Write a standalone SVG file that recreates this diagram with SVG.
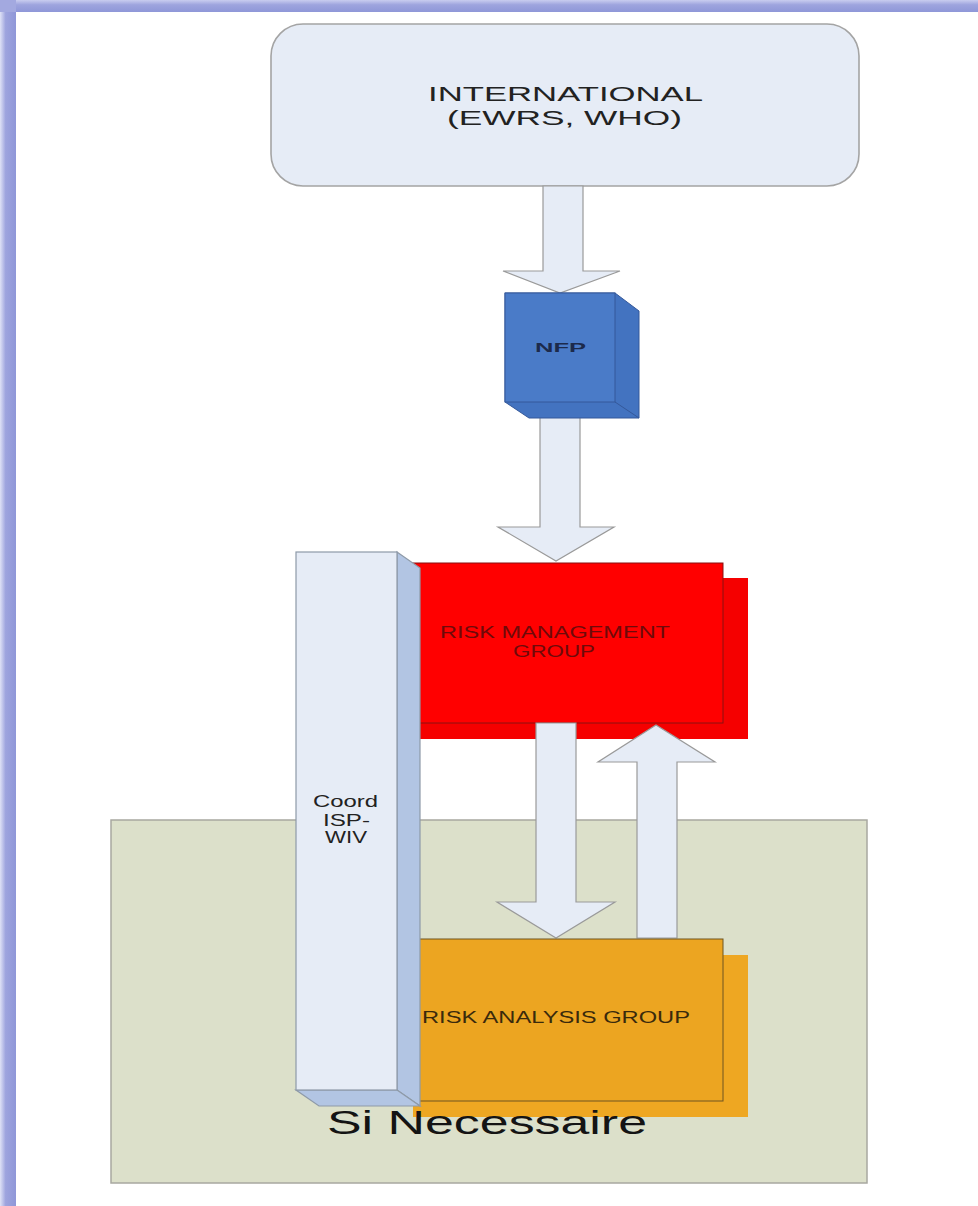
<svg xmlns="http://www.w3.org/2000/svg" width="978" height="1206" viewBox="0 0 978 1206">
<defs>
<linearGradient id="gl" x1="0" y1="0" x2="1" y2="0"><stop offset="0" stop-color="#dfe2f6"/><stop offset="0.35" stop-color="#9ea4de"/><stop offset="1" stop-color="#8f97d8"/></linearGradient>
<linearGradient id="gt" x1="0" y1="0" x2="0" y2="1"><stop offset="0" stop-color="#c9cdef"/><stop offset="0.4" stop-color="#9ea4de"/><stop offset="1" stop-color="#8f97d8"/></linearGradient>
<style>
.arrow{fill:#e6ecf6;stroke:#9a9a9a;stroke-width:1.2}
.lbl{font-family:"Liberation Sans",Arial,sans-serif;text-anchor:start}
.face{fill:#e6ecf6;stroke:#8e9aa8;stroke-width:1.2}
.side{fill:#b2c5e3;stroke:#8e9aa8;stroke-width:1.2}
</style>
</defs>
<rect width="978" height="1206" fill="#ffffff"/>
<g id="frame">
<rect x="0" y="0" width="16" height="1206" fill="url(#gl)"/>
<rect x="0" y="0" width="978" height="12" fill="url(#gt)"/>
<rect x="0" y="0" width="16" height="12" fill="#a3a9e0"/>
</g>
<g id="si-necessaire-area">
<rect x="111" y="820" width="756" height="363" fill="#dce0ca" stroke="#a8a8a0" stroke-width="1.5"/>
</g>
<g id="international">
<rect x="271" y="24" width="588" height="162" rx="32" ry="32" fill="#e6ecf6" stroke="#a4a4a4" stroke-width="1.6"/>
<text class="lbl" x="428" y="101" font-size="21" fill="#222" textLength="275" lengthAdjust="spacingAndGlyphs">INTERNATIONAL</text>
<text class="lbl" x="447" y="125" font-size="21" fill="#222" textLength="235" lengthAdjust="spacingAndGlyphs">(EWRS, WHO)</text>
</g>
<g id="connectors">
<polygon class="arrow" points="543,186 583,186 583,271 620,271 560,293 503,271 543,271"/>
<polygon class="arrow" points="540,400 580,400 580,527 614,527 556,561 498,527 540,527"/>
</g>
<g id="nfp">
<polygon points="505,293 615,293 639,311 639,418 529,418 505,402" fill="#4373c0" stroke="#34589a" stroke-width="1"/>
<rect x="505" y="293" width="110" height="109" fill="#4a7bc8" stroke="#34589a" stroke-width="1"/>
<polyline points="615,402 639,418" fill="none" stroke="#34589a" stroke-width="1"/>
<text class="lbl" x="535" y="352" font-size="13" font-weight="bold" fill="#1c2a4c" textLength="51" lengthAdjust="spacingAndGlyphs">NFP</text>
</g>
<g id="risk-management">
<rect x="412" y="578" width="336" height="161" fill="#f50000"/>
<rect x="412" y="563" width="311" height="160" fill="#ff0000" stroke="#8a1010" stroke-width="1"/>
<text class="lbl" x="440" y="638" font-size="16" fill="#6e0a0a" textLength="230" lengthAdjust="spacingAndGlyphs">RISK MANAGEMENT</text>
<text class="lbl" x="513" y="657" font-size="16" fill="#6e0a0a" textLength="82" lengthAdjust="spacingAndGlyphs">GROUP</text>
</g>
<g id="connectors-2">
<polygon class="arrow" points="536,723 576,723 576,902 615,902 556,938 497,902 536,902"/>
<polygon class="arrow" points="637,938 677,938 677,762 715,762 656,725 598,762 637,762"/>
</g>
<g id="risk-analysis">
<rect x="413" y="955" width="335" height="162" fill="#eea722"/>
<rect x="418" y="939" width="305" height="162" fill="#eca521" stroke="#6e5420" stroke-width="1"/>
<text class="lbl" x="422" y="1023" font-size="16" fill="#3a2a0c" textLength="268" lengthAdjust="spacingAndGlyphs">RISK ANALYSIS GROUP</text>
</g>
<g id="coord">
<polygon class="side" points="397,552 420,568 420,1106 397,1090"/>
<polygon class="side" points="296,1090 397,1090 420,1106 319,1106"/>
<rect class="face" x="296" y="552" width="101" height="538"/>
<text class="lbl" x="313" y="807" font-size="16" fill="#222" textLength="65" lengthAdjust="spacingAndGlyphs">Coord</text>
<text class="lbl" x="323" y="826" font-size="16" fill="#222" textLength="47" lengthAdjust="spacingAndGlyphs">ISP-</text>
<text class="lbl" x="325" y="843" font-size="16" fill="#222" textLength="42" lengthAdjust="spacingAndGlyphs">WIV</text>
</g>
<g id="si-necessaire-label">
<text class="lbl" x="327" y="1134" font-size="34" fill="#141414" textLength="320" lengthAdjust="spacingAndGlyphs">Si Necessaire</text>
</g>
</svg>
